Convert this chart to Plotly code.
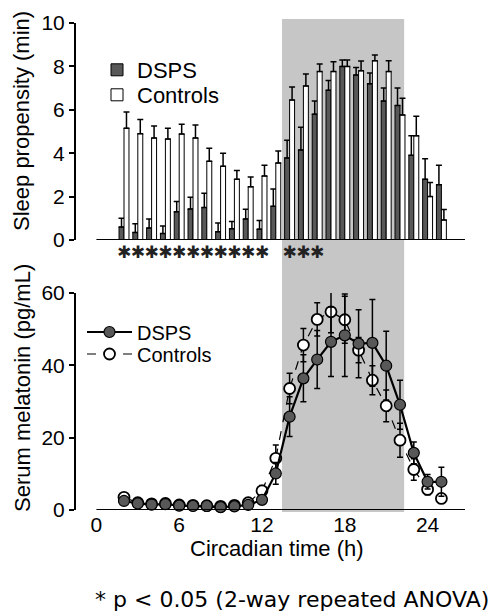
import plotly.graph_objects as go

# ---------------- data ----------------
hours = list(range(2, 26))

sleep_dsps = [0.6, 0.35, 0.55, 0.3, 1.3, 1.43, 1.5, 0.38, 0.52, 0.97, 0.5, 1.55,
              3.78, 4.15, 5.8, 6.9, 8.0, 7.6, 7.2, 6.4, 6.2, 3.9, 2.8, 2.55]
sleep_dsps_err = [0.4, 0.4, 0.42, 0.35, 0.47, 0.54, 0.65, 0.4, 0.33, 0.45, 0.4, 0.8,
                  0.82, 1.05, 0.6, 0.45, 0.3, 0.35, 0.5, 0.6, 0.8, 0.9, 0.95, 0.9]
sleep_ctrl = [5.15, 4.9, 4.7, 4.65, 4.88, 4.7, 3.63, 3.4, 2.8, 2.45, 2.95, 3.55,
              6.45, 7.1, 7.76, 7.76, 8.0, 7.8, 8.26, 7.76, 5.76, 4.8, 2.0, 0.92]
sleep_ctrl_err = [0.75, 0.65, 0.55, 0.5, 0.45, 0.6, 0.6, 0.6, 0.4, 0.45, 0.5, 0.55,
                  0.6, 0.55, 0.35, 0.45, 0.3, 0.45, 0.27, 0.5, 0.77, 0.9, 0.65, 0.48]

sig_hours = [2, 3, 4, 5, 6, 7, 8, 9, 10, 11, 12, 14, 15, 16]

mel_dsps = [2.5, 1.8, 1.5, 1.6, 1.2, 1.1, 1.1, 0.8, 1.0, 1.4, 2.8, 10.1,
            25.8, 36.4, 41.6, 46.5, 48.3, 46.0, 46.2, 39.9, 29.1, 15.8, 7.8, 7.8]
mel_dsps_err = [0.6, 0.5, 0.5, 0.5, 0.5, 0.5, 0.5, 0.5, 0.5, 0.6, 1.0, 3.0,
                5.5, 6.5, 8.0, 9.6, 11.4, 9.4, 12.0, 9.5, 6.8, 3.0, 2.0, 4.0]
mel_ctrl = [3.5, 2.0, 1.7, 1.8, 1.4, 1.3, 1.2, 1.0, 1.3, 2.0, 5.3, 14.3,
            33.6, 45.6, 52.7, 54.8, 52.6, 44.2, 35.9, 28.8, 19.3, 11.2, 5.7, 3.2]
mel_ctrl_err = [0.6, 0.5, 0.5, 0.5, 0.5, 0.5, 0.5, 0.5, 0.5, 0.6, 1.5, 3.7,
                4.2, 4.6, 4.6, 5.8, 6.5, 3.5, 4.0, 4.4, 4.7, 3.0, 1.5, 1.0]

night = [13.45, 22.3]
x_ticks = [0, 6, 12, 18, 24]
sleep_ticks = [0, 2, 4, 6, 8, 10]
mel_ticks = [0, 20, 40, 60]

FONT = "Liberation Sans, Arial, sans-serif"
W, H = 498, 616
XR = [-1.478, 26.71]
DARK = "#585858"
TICK_SIZE = 21
TEXT_SIZE = 22

fig = go.Figure()

# ---------------- top panel: bars ----------------
fig.add_trace(go.Bar(
    x=hours, y=sleep_dsps, name="DSPS", xaxis="x", yaxis="y",
    marker=dict(color=DARK, line=dict(color="black", width=1)),
    error_y=dict(type="data", symmetric=False, array=sleep_dsps_err,
                 arrayminus=[0] * len(hours), color="black", thickness=1.5, width=3),
    legend="legend",
))
fig.add_trace(go.Bar(
    x=hours, y=sleep_ctrl, name="Controls", xaxis="x", yaxis="y",
    marker=dict(color="white", line=dict(color="black", width=1)),
    error_y=dict(type="data", symmetric=False, array=sleep_ctrl_err,
                 arrayminus=[0] * len(hours), color="black", thickness=1.5, width=3),
    legend="legend3",
))
fig.add_trace(go.Scatter(
    x=sig_hours, y=[0.5] * len(sig_hours), mode="text", text=["✱"] * len(sig_hours),
    textfont=dict(family="DejaVu Sans", size=17, color="#222"),
    xaxis="x", yaxis="y3", showlegend=False, cliponaxis=False, hoverinfo="skip",
))

# ---------------- bottom panel: melatonin ----------------
fig.add_trace(go.Scatter(
    x=hours, y=mel_ctrl, name="Controls", mode="lines+markers", xaxis="x2", yaxis="y2",
    line=dict(color="black", width=1.2, dash="dash"),
    marker=dict(symbol="circle", size=11, color="white", line=dict(color="black", width=1.8)),
    error_y=dict(type="data", array=mel_ctrl_err, color="black", thickness=1.5, width=3),
    cliponaxis=False, legend="legend4",
))
fig.add_trace(go.Scatter(
    x=hours, y=mel_dsps, name="DSPS", mode="lines+markers", xaxis="x2", yaxis="y2",
    line=dict(color="black", width=2.2),
    marker=dict(symbol="circle", size=11, color=DARK, line=dict(color="black", width=1.2)),
    error_y=dict(type="data", array=mel_dsps_err, color="black", thickness=1.5, width=3),
    cliponaxis=False, legend="legend2",
))

xdom = [76 / W, 465 / W]
ydom_top = [1 - 240 / H, 1 - 23 / H]
ydom_bot = [1 - 510 / H, 1 - 293 / H]
ydom_sig = [1 - 266 / H, 1 - 242 / H]

axis_common = dict(showgrid=False, zeroline=False, showline=True, linecolor="black",
                   linewidth=2, ticks="outside", ticklen=5, tickwidth=2, tickcolor="black",
                   automargin=False,
                   tickfont=dict(family=FONT, size=TICK_SIZE, color="black"))

shapes = [
    dict(type="rect", xref="x", yref="paper", x0=night[0], x1=night[1],
         y0=1 - 512 / H, y1=1 - 19 / H, fillcolor="#c6c6c6", line=dict(width=0), layer="below"),
    dict(type="line", xref="x", yref="y", x0=0, x1=XR[1], y0=0, y1=0,
         line=dict(color="black", width=2)),
    dict(type="line", xref="x2", yref="y2", x0=0, x1=XR[1], y0=0, y1=0,
         line=dict(color="black", width=2)),
]

annotations = [
    dict(text="Sleep propensity (min)", x=22 / W, y=1 - 121 / H, xref="paper", yref="paper",
         textangle=-90, showarrow=False, font=dict(family=FONT, size=TEXT_SIZE, color="black"),
         xanchor="center", yanchor="middle"),
    dict(text="Serum melatonin (pg/mL)", x=22 / W, y=1 - 388 / H, xref="paper", yref="paper",
         textangle=-90, showarrow=False, font=dict(family=FONT, size=TEXT_SIZE, color="black"),
         xanchor="center", yanchor="middle"),
    dict(text="Circadian time (h)", x=277 / W, y=1 - 548 / H, xref="paper", yref="paper",
         showarrow=False, font=dict(family=FONT, size=TEXT_SIZE, color="black"),
         xanchor="center", yanchor="middle"),
    dict(text="* p < 0.05 (2-way repeated ANOVA)", x=292 / W, y=1 - 599 / H,
         xref="paper", yref="paper", showarrow=False,
         font=dict(family="DejaVu Sans", size=22, color="black"),
         xanchor="center", yanchor="middle"),
]

def leg(xpx, ypx, size=TEXT_SIZE, **kw):
    d = dict(x=xpx / W, y=1 - ypx / H, xanchor="left", yanchor="middle",
             bgcolor="rgba(0,0,0,0)", font=dict(family=FONT, size=size, color="black"))
    d.update(kw)
    return d

fig.update_layout(
    width=W, height=H, margin=dict(l=0, r=0, t=0, b=0, autoexpand=False),
    paper_bgcolor="white", plot_bgcolor="rgba(0,0,0,0)",
    barmode="group", bargap=0.28, bargroupgap=0.0,
    font=dict(family=FONT, size=TEXT_SIZE, color="black"),
    xaxis=dict(domain=xdom, range=XR, anchor="y", showgrid=False, zeroline=False,
               showline=False, showticklabels=False, ticks="", automargin=False),
    yaxis=dict(domain=ydom_top, range=[0, 10], anchor="x", tickvals=sleep_ticks,
               **axis_common),
    yaxis3=dict(domain=ydom_sig, range=[0, 1], anchor="x", visible=False),
    xaxis2=dict(domain=xdom, range=XR, anchor="y2", showgrid=False, zeroline=False,
                showline=False, ticks="", tickvals=x_ticks, automargin=False,
                tickfont=dict(family=FONT, size=TICK_SIZE, color="black")),
    yaxis2=dict(domain=ydom_bot, range=[0, 60], anchor="x2", tickvals=mel_ticks,
                **axis_common),
    legend=leg(97, 70),
    legend3=leg(97, 95),
    legend2=leg(82, 332, size=20, itemwidth=45),
    legend4=leg(82, 354, size=20, itemwidth=45),
    shapes=shapes, annotations=annotations, showlegend=True,
)

fig.write_html("out.html", config={"displayModeBar": False},
               post_script="document.body.style.margin='0';document.body.style.overflow='hidden';")
